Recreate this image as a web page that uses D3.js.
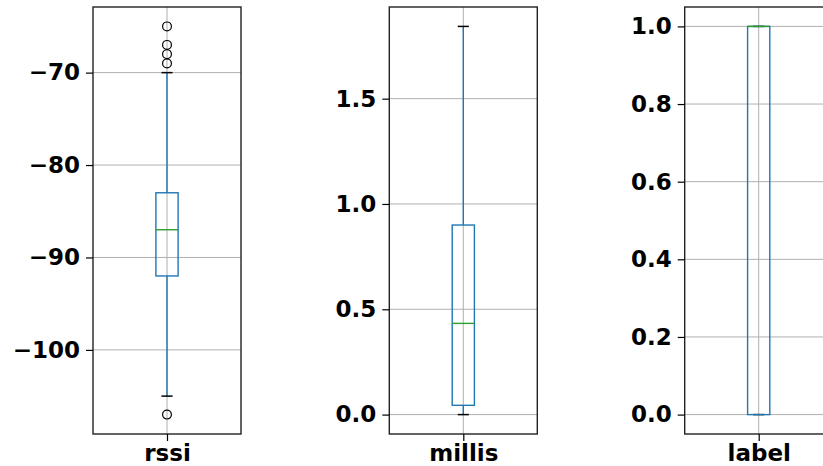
<!DOCTYPE html>
<html>
<head>
<meta charset="utf-8">
<script src="https://cdn.jsdelivr.net/npm/d3@7"></script>
<style>
  html, body { margin: 0; padding: 0; background: #fff; }
  svg { display: block; }
  text { font-family: "DejaVu Sans", sans-serif; font-weight: bold; }
</style>
</head>
<body>
<svg id="chart" width="823" height="466"></svg>
<script>
// ---- data ----
const categories   = ["rssi", "millis", "label"];
const whiskerLow   = [-105, 0.0, 0.0];
const q1           = [-92, 0.044, 0.0];
const medians      = [-87, 0.433, 1.0];
const q3           = [-83, 0.90, 1.0];
const whiskerHigh  = [-70, 1.843, 1.0];
const outliers     = [[-65, -67, -68, -69, -107], [], []];
const tickValues   = [[-100, -90, -80, -70], [0.0, 0.5, 1.0, 1.5], [0.0, 0.2, 0.4, 0.6, 0.8, 1.0]];
const tickLabels   = [["−100", "−90", "−80", "−70"], ["0.0", "0.5", "1.0", "1.5"], ["0.0", "0.2", "0.4", "0.6", "0.8", "1.0"]];

// ---- layout ----
const panelLeft = [93, 389.3, 684.7];
const panelW = 148;
const plotTop = 7, plotBottom = 434;
const boxHalf = 0.075, capHalf = 0.0375;

const svg = d3.select("#chart");

categories.forEach((cat, i) => {
  const vals = [whiskerLow[i], whiskerHigh[i], ...outliers[i]];
  const lo = d3.min(vals), hi = d3.max(vals);
  const pad = (hi - lo) * 0.05;
  const y = d3.scaleLinear().domain([lo - pad, hi + pad]).range([plotBottom, plotTop]);
  const x = d3.scaleLinear().domain([0.5, 1.5]).range([panelLeft[i], panelLeft[i] + panelW]);
  const g = svg.append("g");

  // grid
  g.selectAll("line.hgrid").data(tickValues[i]).join("line")
    .attr("class", "hgrid")
    .attr("x1", x(0.5)).attr("x2", x(1.5))
    .attr("y1", d => y(d)).attr("y2", d => y(d))
    .attr("stroke", "#b0b0b0").attr("stroke-width", 1);
  g.append("line")
    .attr("x1", x(1)).attr("x2", x(1)).attr("y1", plotTop).attr("y2", plotBottom)
    .attr("stroke", "#b0b0b0").attr("stroke-width", 1);

  const cx = x(1);
  const blue = "#1f77b4";
  // whiskers
  g.append("line").attr("x1", cx).attr("x2", cx)
    .attr("y1", y(q3[i])).attr("y2", y(whiskerHigh[i]))
    .attr("stroke", blue).attr("stroke-width", 1.4);
  g.append("line").attr("x1", cx).attr("x2", cx)
    .attr("y1", y(q1[i])).attr("y2", y(whiskerLow[i]))
    .attr("stroke", blue).attr("stroke-width", 1.4);
  // caps
  [whiskerLow[i], whiskerHigh[i]].forEach(v => {
    g.append("line").attr("x1", x(1 - capHalf)).attr("x2", x(1 + capHalf))
      .attr("y1", y(v)).attr("y2", y(v))
      .attr("stroke", "#000").attr("stroke-width", 1.5);
  });
  // box
  g.append("rect")
    .attr("x", x(1 - boxHalf)).attr("width", x(1 + boxHalf) - x(1 - boxHalf))
    .attr("y", y(q3[i])).attr("height", Math.max(0, y(q1[i]) - y(q3[i])))
    .attr("fill", "none").attr("stroke", blue).attr("stroke-width", 1.4);
  // median
  g.append("line").attr("x1", x(1 - boxHalf)).attr("x2", x(1 + boxHalf))
    .attr("y1", y(medians[i])).attr("y2", y(medians[i]))
    .attr("stroke", "#2ca02c").attr("stroke-width", 1.4);
  // fliers
  g.selectAll("circle").data(outliers[i]).join("circle")
    .attr("cx", cx).attr("cy", d => y(d)).attr("r", 4.4)
    .attr("fill", "none").attr("stroke", "#000").attr("stroke-width", 1.2);

  // spines
  g.append("rect").attr("x", x(0.5)).attr("y", plotTop)
    .attr("width", panelW).attr("height", plotBottom - plotTop)
    .attr("fill", "none").attr("stroke", "#222").attr("stroke-width", 1.4);

  // y axis
  const yAxis = d3.axisLeft(y).tickValues(tickValues[i])
    .tickFormat((d, k) => tickLabels[i][k]).tickSize(7).tickPadding(6);
  const ya = svg.append("g").attr("transform", `translate(${x(0.5)},0)`).call(yAxis);
  ya.select(".domain").remove();
  ya.selectAll("text").attr("font-size", 23).attr("fill", "#000")
    .attr("font-family", "DejaVu Sans").attr("font-weight", "bold");
  ya.selectAll("line").attr("stroke", "#000").attr("stroke-width", 1.2);

  // x axis
  const xAxis = d3.axisBottom(x).tickValues([1]).tickFormat(() => cat).tickSize(7).tickPadding(5);
  const xa = svg.append("g").attr("transform", `translate(0,${plotBottom})`).call(xAxis);
  xa.select(".domain").remove();
  xa.selectAll("text").attr("font-size", 23).attr("fill", "#000")
    .attr("y", 26.5).attr("dy", 0)
    .attr("font-family", "DejaVu Sans").attr("font-weight", "bold");
  xa.selectAll("line").attr("stroke", "#000").attr("stroke-width", 1.2);
});
</script>
</body>
</html>
